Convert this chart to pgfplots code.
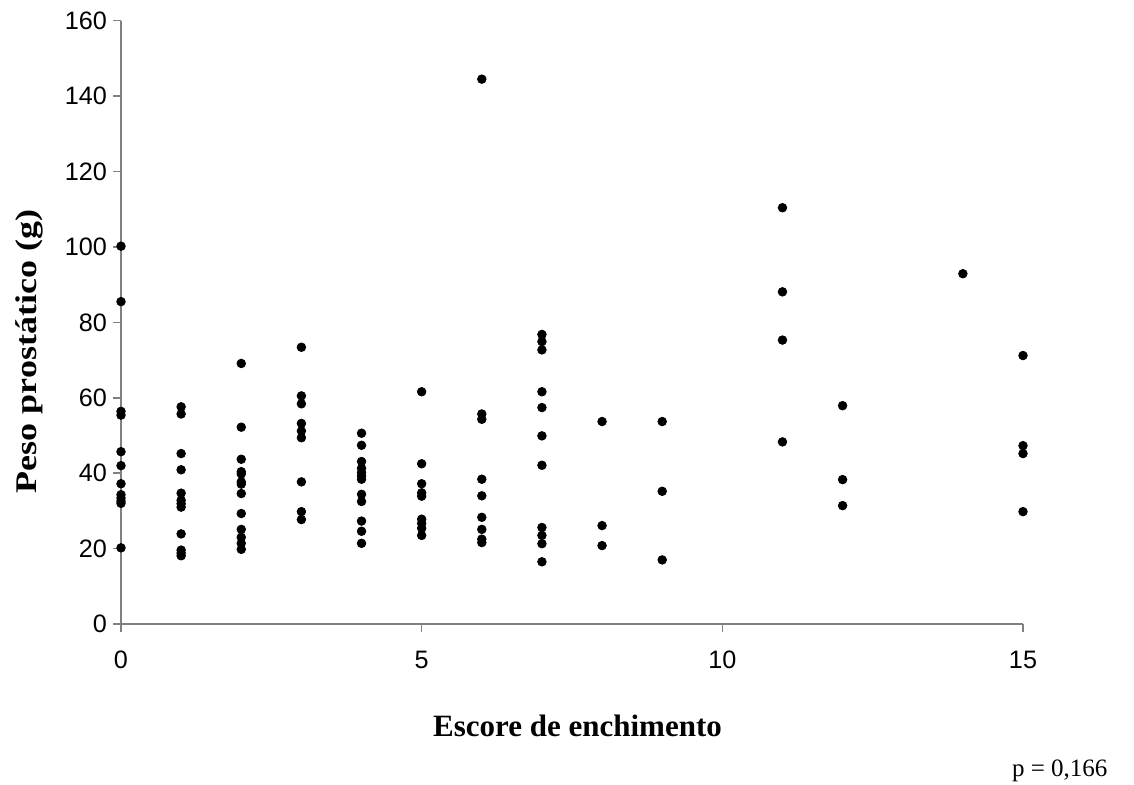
\documentclass[border=0pt]{standalone}
\usepackage{pgfplots}
\pgfplotsset{compat=1.18}
\usepackage{fontspec}
\setmainfont{Liberation Serif}
\setsansfont{Liberation Sans}
\definecolor{axgray}{HTML}{808080}
\begin{document}
\begin{tikzpicture}
\useasboundingbox (-60.5pt,-80pt) rectangle (506.5pt,312pt);
\begin{axis}[
  at={(0,0)}, anchor=south west,
  scale only axis, width=451pt, height=301.65pt,
  xmin=0, xmax=15, ymin=0, ymax=160,
  axis lines=left,
  axis line style={-, draw=axgray, line width=0.75pt},
  xtick={0,5,10,15}, ytick={0,20,...,160},
  tick style={draw=axgray, line width=0.75pt},
  tick align=outside, major tick length=4pt,
  /pgf/number format/assume math mode=true,
  ticklabel style={font=\sffamily\fontsize{12.6}{12.6}\selectfont},
  yticklabel style={xshift=0.5pt},
  xticklabel style={yshift=-6pt},
  clip=false,
]
\addplot[only marks, mark=*, mark size=2.15pt, black] coordinates {
(0,100.2) (0,85.5) (0,56.4) (0,55.4) (0,45.7) (0,42.0) (0,37.2) (0,34.3) (0,33.4) (0,32.6) (0,32.0) (0,20.2)
(1,57.6) (1,55.7) (1,45.2) (1,40.9) (1,34.7) (1,32.8) (1,31.9) (1,31.0) (1,23.9) (1,19.6) (1,18.8) (1,18.1)
(2,69.1) (2,52.2) (2,43.7) (2,40.4) (2,39.8) (2,37.7) (2,37.1) (2,34.6) (2,29.3) (2,25.1) (2,23.0) (2,21.4) (2,19.8)
(3,73.4) (3,60.5) (3,58.4) (3,53.2) (3,51.2) (3,49.4) (3,37.7) (3,29.8) (3,27.7)
(4,50.6) (4,47.4) (4,43.1) (4,41.3) (4,40.2) (4,39.3) (4,38.4) (4,34.4) (4,32.5) (4,27.3) (4,24.6) (4,21.4)
(5,61.6) (5,42.5) (5,37.2) (5,34.8) (5,33.9) (5,27.8) (5,26.7) (5,25.4) (5,23.5)
(6,144.5) (6,55.7) (6,54.3) (6,38.4) (6,34.0) (6,28.3) (6,25.1) (6,22.5) (6,21.6)
(7,76.8) (7,74.9) (7,72.7) (7,61.6) (7,57.4) (7,49.9) (7,42.1) (7,25.6) (7,23.5) (7,21.3) (7,16.5)
(8,53.7) (8,26.1) (8,20.8)
(9,53.7) (9,35.2) (9,17.0)
(11,110.4) (11,88.1) (11,75.3) (11,48.3)
(12,57.9) (12,38.3) (12,31.4)
(14,92.9)
(15,71.2) (15,47.3) (15,45.2) (15,29.8)
};
\end{axis}
\node[anchor=base, inner sep=0pt, font=\bfseries\fontsize{15.5}{15.5}\selectfont] at (228.25pt,-56pt) {Escore de enchimento};
\node[rotate=90, anchor=center, inner sep=0pt, font=\bfseries\fontsize{15}{15}\selectfont] at (-46pt,136.25pt) {\scalebox{1.2}[1]{Peso prostático (g)}};
\node[anchor=base west, inner sep=0pt, font=\fontsize{12.5}{12.5}\selectfont] at (445.35pt,-76pt) {p = 0,166};
\end{tikzpicture}
\end{document}
